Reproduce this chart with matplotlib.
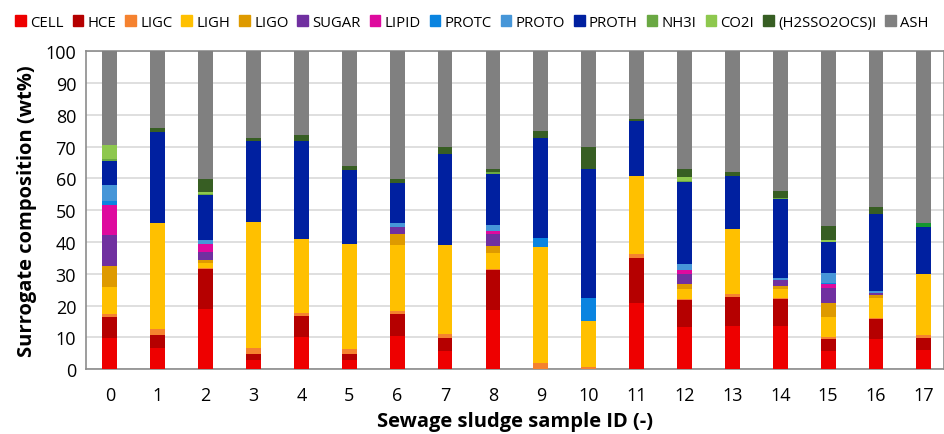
import matplotlib
matplotlib.use("Agg")
import matplotlib.pyplot as plt
from matplotlib import font_manager
import numpy as np

samples = [str(i) for i in range(18)]
components = ["CELL", "HCE", "LIGC", "LIGH", "LIGO", "SUGAR", "LIPID", "PROTC",
              "PROTO", "PROTH", "NH3I", "CO2I", "(H2SSO2OCS)I", "ASH"]

CELL  = [9.7, 6.6, 18.8, 2.8, 10.2, 2.8, 10.3, 5.8, 18.7, 0.0, 0.0, 20.9, 13.3, 13.6, 13.5, 5.8, 9.5, 5.9]
HCE   = [6.7, 4.2, 12.6, 1.9, 6.4, 2.1, 6.9, 3.9, 12.5, 0.0, 0.0, 14.0, 8.5, 9.1, 8.7, 3.8, 6.4, 3.8]
LIGC  = [0.8, 1.8, 0.3, 1.9, 1.2, 1.6, 1.2, 1.4, 0.2, 1.9, 0.6, 1.2, 0.3, 1.0, 0.2, 0.6, 0.3, 1.1]
LIGH  = [8.5, 33.4, 1.6, 39.8, 23.2, 32.9, 20.6, 28.1, 5.1, 36.4, 14.4, 24.8, 3.0, 20.5, 2.7, 6.3, 6.2, 19.0]
LIGO  = [6.7, 0.0, 0.9, 0.0, 0.0, 0.0, 3.4, 0.0, 2.3, 0.0, 0.0, 0.0, 1.6, 0.0, 1.0, 4.3, 1.0, 0.0]
SUGAR = [9.7, 0.0, 2.7, 0.0, 0.0, 0.0, 2.3, 0.0, 3.6, 0.0, 0.0, 0.0, 3.1, 0.0, 2.0, 4.7, 0.7, 0.0]
LIPID = [9.5, 0.0, 2.4, 0.0, 0.0, 0.0, 0.0, 0.0, 1.2, 0.0, 0.0, 0.0, 1.4, 0.0, 0.0, 1.2, 0.0, 0.0]
PROTC = [1.3, 0.0, 0.0, 0.0, 0.0, 0.0, 0.0, 0.0, 0.0, 2.9, 7.5, 0.0, 0.0, 0.0, 0.0, 0.3, 0.0, 0.0]
PROTO = [5.0, 0.0, 1.3, 0.0, 0.0, 0.0, 1.2, 0.0, 1.7, 0.0, 0.0, 0.0, 1.8, 0.0, 0.6, 3.2, 0.4, 0.0]
PROTH = [7.6, 28.6, 14.1, 25.3, 30.9, 23.1, 12.6, 28.5, 16.2, 31.5, 40.5, 17.1, 26.0, 16.5, 24.9, 9.8, 24.3, 14.9]
NH3I  = [0.5, 0.0, 0.4, 0.0, 0.0, 0.0, 0.0, 0.0, 0.6, 0.0, 0.0, 0.0, 0.3, 0.0, 0.3, 0.1, 0.0, 1.4]
CO2I  = [4.4, 0.0, 0.7, 0.0, 0.0, 0.0, 0.0, 0.0, 0.0, 0.0, 0.0, 0.0, 1.1, 0.0, 0.0, 0.4, 0.0, 0.0]
H2SI  = [0.0, 1.3, 4.1, 1.1, 1.9, 1.4, 1.2, 2.1, 0.7, 2.2, 6.8, 0.8, 2.4, 1.2, 2.0, 4.4, 2.2, 0.0]
ASH   = [29.6, 24.1, 40.1, 27.2, 26.2, 36.1, 40.3, 30.2, 37.2, 25.1, 30.2, 21.2, 37.2, 38.1, 44.1, 55.2, 49.0, 53.9]

series = [CELL, HCE, LIGC, LIGH, LIGO, SUGAR, LIPID, PROTC, PROTO, PROTH, NH3I, CO2I, H2SI, ASH]
colors = ["#EE0000", "#B50000", "#F5822F", "#FFC000", "#DE9A00", "#7030A0", "#DE0A9E",
          "#0A84E0", "#4696D8", "#0020A0", "#6AA843", "#8EC84E", "#375E23", "#808080"]
# the last sample's top inert band is drawn in a brighter green in the reference
special_color = {("NH3I", 17): "#13962F"}

plt.rcParams['font.family'] = ['Open Sans', 'DejaVu Sans']
installed = {f.name for f in font_manager.fontManager.ttflist}
legend_family = ['Liberation Sans Narrow'] if 'Liberation Sans Narrow' in installed else ['Open Sans']

fig = plt.figure(figsize=(9.44, 4.35), dpi=100)
ax = fig.add_axes([0.091, 0.149, 0.909, 0.731])

x = np.arange(len(samples))
bottom = np.zeros(len(samples))
handles = []
for name, vals, c in zip(components, series, colors):
    v = np.array(vals)
    cols = [special_color.get((name, i), c) for i in range(len(samples))]
    b = ax.bar(x, v, 0.31, bottom=bottom, color=cols, zorder=3, linewidth=0)
    proxy = plt.Rectangle((0, 0), 1, 1, color=c, label=name)
    handles.append(proxy)
    bottom += v

ax.set_xlim(-0.5, 17.42)
ax.set_ylim(0, 100)
ax.set_yticks(np.arange(0, 101, 10))
ax.set_xticks(x)
ax.set_xticklabels(samples)
ax.yaxis.grid(True, color="#D9D9D9", linewidth=1.2, zorder=0)
ax.tick_params(axis='both', length=0, labelsize=13, colors="#000000")
ax.tick_params(axis='x', pad=12)
ax.tick_params(axis='y', pad=7)
for s in ax.spines.values():
    s.set_color("#8C8C8C")
    s.set_linewidth(1.2)

ax.set_ylabel("Surrogate composition (wt%)", fontsize=14.5, fontweight='bold', labelpad=6)
ax.set_xlabel("Sewage sludge sample ID (-)", fontsize=14.5, fontweight='bold', labelpad=5)

fs = 13.5
while True:
    leg = fig.legend(handles=handles, loc='upper center', bbox_to_anchor=(0.5, 0.995), ncol=14,
                     frameon=False, prop={'family': legend_family, 'size': fs},
                     handlelength=0.7, handleheight=0.7,
                     handletextpad=0.3, columnspacing=0.6, borderaxespad=0.5)
    fig.canvas.draw()
    bb = leg.get_window_extent()
    if bb.width <= 934 or fs <= 7:
        break
    leg.remove()
    fs -= 0.25

fig.savefig("out.png", dpi=100)
